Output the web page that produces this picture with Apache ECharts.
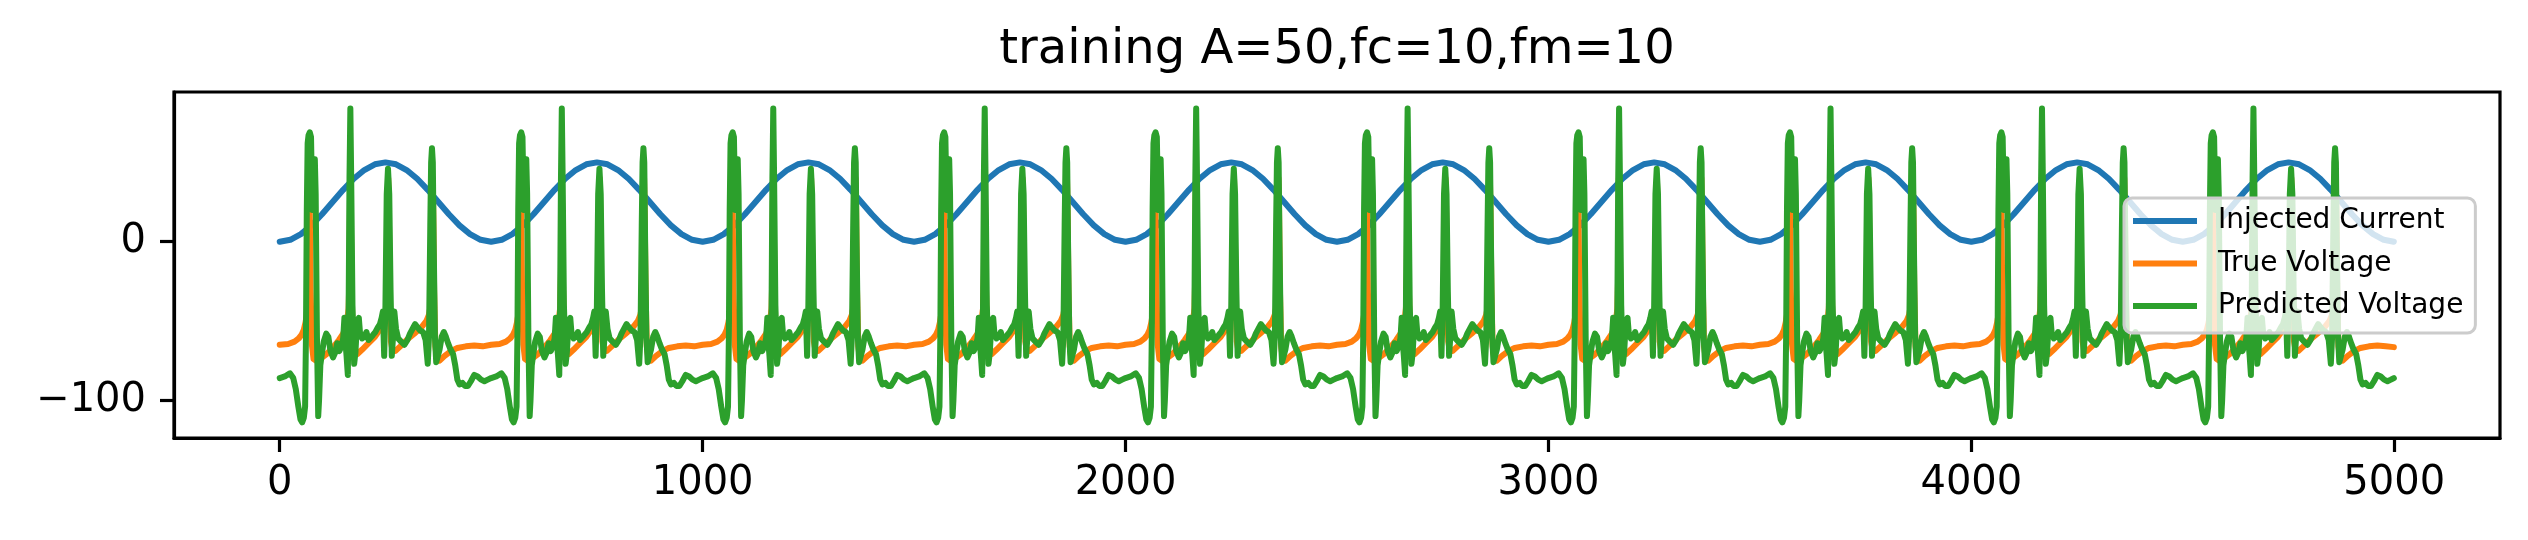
<!DOCTYPE html>
<html><head><meta charset="utf-8">
<script src="https://cdn.jsdelivr.net/npm/echarts@6/dist/echarts.min.js"></script>
<style>html,body{margin:0;padding:0;background:#fff}#c{width:2528px;height:540px}</style>
</head><body><div id="c"></div><script>
const titleText = 'training A=50,fc=10,fm=10';
const seriesNames = ['Injected Current', 'True Voltage', 'Predicted Voltage'];
const xTicks = [0, 1000, 2000, 3000, 4000, 5000];
const yTicks = [-100, 0];
const lastSample = 4999;
// start of each stimulus cycle (the traces repeat every 500 samples)
const cycleStarts = [0, 500, 1000, 1500, 2000, 2500, 3000, 3500, 4000, 4500];
// [offset within cycle, value]
const currentCycle = [[0,0],[25,1.2],[50,4.8],[75,10.3],[100,17.3],[125,25],[150,32.7],[175,39.7],[200,45.2],[225,48.8],[250,50],[275,48.8],[300,45.2],[325,39.7],[350,32.7],[375,25],[400,17.3],[425,10.3],[450,4.8],[475,1.2],[500,0]];
const trueVoltageCycle = [[0,-65],[20,-64.5],[35,-63],[45,-61],[52,-58.5],[57,-55.5],[61,-51],[64,-46],[66,-38],[67.5,-15],[69,40],[71,20],[73,-30],[76,-65],[80,-74],[86,-75],[95,-74],[110,-71],[125,-67],[140,-62],[150,-58],[156,-54],[160,-49],[163,-42],[165,-20],[166.5,40],[168,20],[170,-30],[173,-65],[177,-71],[183,-71],[195,-68],[210,-64],[225,-60],[238,-55],[246,-51],[250,-47],[253,-41],[255,-20],[256.5,40],[258,20],[260,-30],[263,-63],[267,-69],[273,-69],[285,-66],[300,-62],[318,-58],[335,-54],[347,-50],[353,-46],[357,-40],[360,-20],[361.5,40],[363,20],[365,-30],[368,-66],[372,-74],[378,-75],[390,-72],[405,-69],[420,-67],[440,-66],[460,-65.5],[480,-66],[500,-66.5]];
const predictedVoltageCycle = [[0,-86],[12,-85],[24,-83],[32,-86],[38,-93],[44,-104],[49,-112],[53,-114],[57,-111],[60,-104],[62,-60],[64,20],[66,62],[68,67],[71,69],[74,66],[77,20],[80,30],[83,52],[85,30],[88,-60],[91,-110],[93,-100],[96,-78],[99,-72],[104,-63],[110,-58],[115,-60],[120,-69],[126,-73],[131,-70],[136,-64],[141,-69],[146,-66],[150,-61],[153,-48],[155,-62],[158,-72],[161,-84],[163,-40],[165,40],[167,84],[169,40],[172,-40],[176,-77],[179,-70],[183,-50],[187,-48],[190,-58],[195,-61],[200,-60],[205,-57],[210,-62],[214,-63],[220,-59],[226,-57],[232,-54],[237,-52],[241,-48],[244,-44],[247,-72],[250,-40],[253,30],[256,46],[259,30],[262,-30],[265,-72],[268,-60],[271,-44],[275,-55],[280,-61],[287,-63],[295,-65],[302,-62],[308,-58],[314,-55],[320,-52],[326,-54],[332,-56],[339,-57],[345,-62],[350,-77],[353,-60],[356,10],[358,50],[360,59],[362,50],[364,0],[367,-60],[370,-76],[374,-75],[378,-68],[383,-60],[388,-57],[393,-60],[398,-64],[404,-68],[410,-71],[415,-78],[420,-87],[425,-90],[432,-89],[438,-91],[445,-91],[452,-88],[460,-84],[468,-85],[476,-87],[484,-88],[492,-87],[500,-86]];

function buildSeriesData(cycle) {
  const out = [];
  cycleStarts.forEach((start, i) => {
    cycle.forEach(([t, v]) => {
      if (t >= 500 && i < cycleStarts.length - 1) return;
      out.push([Math.min(start + t, lastSample), v]);
    });
  });
  return out;
}

const FONT = 'DejaVu Sans';
const chart = echarts.init(document.getElementById('c'), null, {renderer: 'canvas', width: 2528, height: 540});
const lineStyleBase = {width: 6, cap: 'round', join: 'round'};
chart.setOption({
  animation: false,
  color: ['#1f77b4', '#ff7f0e', '#2ca02c'],
  grid: {left: 174, top: 92, width: 2326, height: 346, show: true, borderColor: '#000', borderWidth: 3.2, backgroundColor: 'transparent', containLabel: false},
  graphic: [{type: 'text', x: 1337, y: 51, z: 10, style: {text: titleText, fontSize: 48, fontFamily: FONT, fill: '#000', align: 'center', verticalAlign: 'middle'}}],
  legend: {
    data: seriesNames, orient: 'vertical', left: 2124, top: 198,
    icon: 'rect', itemWidth: 64, itemHeight: 6, itemGap: 14.5,
    padding: [9, 12, 13, 9],
    backgroundColor: 'rgba(255,255,255,0.8)', borderColor: '#cccccc', borderWidth: 3, borderRadius: 8,
    textStyle: {fontSize: 28, fontFamily: FONT, color: '#000', padding: [0, 0, 0, 16], lineHeight: 28}
  },
  xAxis: {
    type: 'value', min: -250, max: 5250,
    splitLine: {show: false},
    axisLine: {show: true, onZero: false, lineStyle: {color: '#000', width: 3.2}},
    axisTick: {show: true, customValues: xTicks, length: 14, lineStyle: {color: '#000', width: 3.2}},
    axisLabel: {customValues: xTicks, fontSize: 40, fontFamily: FONT, color: '#000', margin: 26,
      formatter: v => String(v)}
  },
  yAxis: {
    type: 'value', min: -123.8, max: 94.4,
    splitLine: {show: false},
    axisLine: {show: true, onZero: false, lineStyle: {color: '#000', width: 3.2}},
    axisTick: {show: true, customValues: yTicks, length: 14, lineStyle: {color: '#000', width: 3.2}},
    axisLabel: {customValues: yTicks, fontSize: 40, fontFamily: FONT, color: '#000', margin: 28,
      formatter: v => String(v).replace('-', '\u2212')}
  },
  series: [
    {name: seriesNames[0], type: 'line', data: buildSeriesData(currentCycle), showSymbol: false, symbol: 'none', lineStyle: lineStyleBase},
    {name: seriesNames[1], type: 'line', data: buildSeriesData(trueVoltageCycle), showSymbol: false, symbol: 'none', lineStyle: lineStyleBase},
    {name: seriesNames[2], type: 'line', data: buildSeriesData(predictedVoltageCycle), showSymbol: false, symbol: 'none', lineStyle: lineStyleBase}
  ]
});
</script></body></html>
